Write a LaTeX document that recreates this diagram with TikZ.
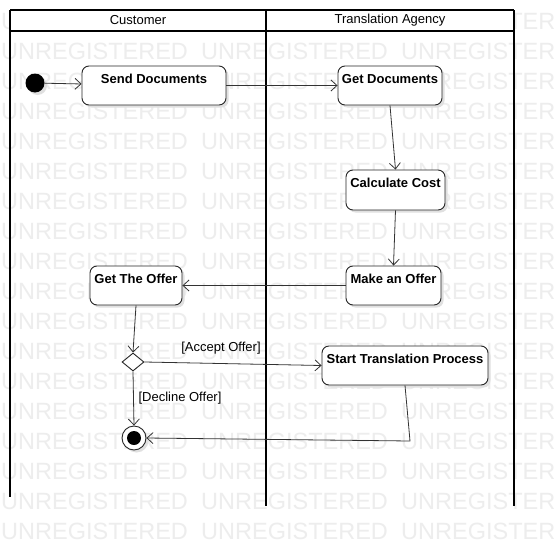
\documentclass[tikz,border=0pt]{standalone}
\usepackage{fontspec}
\setmainfont{Liberation Sans}
\usetikzlibrary{positioning,arrows.meta,shadows,shapes.geometric}

\begin{document}
\begin{tikzpicture}[x=1pt,y=-1pt,
    wm/.style={text=black!7,font=\fontsize{23.5}{26}\selectfont,inner sep=0pt,anchor=west},
    lane/.style={line width=1.8pt,black},
    head/.style={font=\fontsize{13}{15}\selectfont,inner sep=0pt},
    act/.style={draw=black!85,fill=white,rounded corners=7pt,line width=.9pt,
        drop shadow={shadow xshift=2.5pt,shadow yshift=-2.5pt,fill=black!12,opacity=1}},
    flow/.style={draw=black!80,line width=.8pt,-{Straight Barb[length=6pt,width=11pt]}},
    guard/.style={font=\fontsize{13}{15}\selectfont,inner sep=0pt}]
            \useasboundingbox (0,0) rectangle (554,546);
            \fill[white] (0,0) rectangle (554,546);

            % watermark
            \foreach \r in {0,...,17}
                \foreach \c in {0,1,2}
                    \node[wm] (wm-\r-\c) at (\c*200+1, 21+\r*30) {UNREGISTERED};

            % swimlanes
            \fill[white] (10,10) rectangle (514,31);
            \draw[lane] (10,10) -- (514,10);
            \draw[lane] (10,31) -- (514,31);
            \draw[lane] (10,10) -- (10,497);
            \draw[lane] (266,10) -- (266,506);
            \draw[lane] (514,10) -- (514,506);
            \node[head] (cust) at (138,20) {Customer};
            \node[head] (agen) at (390,20) {Translation Agency};

            % nodes
            \node[circle,fill=black,minimum size=19pt,inner sep=0pt,
                drop shadow={shadow xshift=2.5pt,shadow yshift=-2.5pt,fill=black!12,opacity=1}] (ini) at (35,83) {};
            \node[act,minimum width=144pt,minimum height=39pt,
                label={[anchor=north,yshift=-5pt,font=\bfseries\fontsize{13}{15}\selectfont]north:Send Documents}] (sd) at (154,85.5) {};
            \node[act,minimum width=104pt,minimum height=39pt,
                label={[anchor=north,yshift=-5pt,font=\bfseries\fontsize{13}{15}\selectfont]north:Get Documents}] (gd) at (390,85.5) {};
            \node[act,minimum width=99pt,minimum height=40pt,
                label={[anchor=north,yshift=-5pt,font=\bfseries\fontsize{13}{15}\selectfont]north:Calculate Cost}] (cc) at (395.5,190) {};
            \node[act,minimum width=95pt,minimum height=39pt,
                label={[anchor=north,yshift=-5pt,font=\bfseries\fontsize{13}{15}\selectfont]north:Make an Offer}] (mo) at (393.5,285.5) {};
            \node[act,minimum width=92pt,minimum height=39pt,
                label={[anchor=north,yshift=-5pt,font=\bfseries\fontsize{13}{15}\selectfont]north:Get The Offer}] (go) at (136,285.5) {};
            \node[act,minimum width=166pt,minimum height=39pt,
                label={[anchor=north,yshift=-5pt,font=\bfseries\fontsize{13}{15}\selectfont]north:Start Translation Process}] (stp) at (405,365.5) {};
            \node[draw=black!85,fill=white,line width=.9pt,diamond,inner sep=0pt,
                minimum width=22pt,minimum height=18pt] (dec) at (133,362) {};
            \node[circle,draw=black!85,fill=white,line width=.9pt,minimum size=24pt,inner sep=0pt,
                drop shadow={shadow xshift=2.5pt,shadow yshift=-2.5pt,fill=black!12,opacity=1}] (fin) at (134,438) {};
            \node[circle,fill=black,minimum size=14pt,inner sep=0pt] (fin-in) at (fin) {};
            \coordinate (bend) at (410,441);

            % flows
            \draw[flow] (ini) -- (sd);
            \draw[flow] (sd) -- (gd);
            \draw[flow] (gd.south) -- (cc.north);
            \draw[flow] (cc.south) -- (mo.north);
            \draw[flow] (mo) -- (go);
            \draw[flow] (go.south) -- (dec.north);
            \draw[flow] (dec.east) -- (stp.west);
            \draw[flow] (dec.south) -- (fin.north);
            \draw[flow] (stp.south) -- (bend) -- (fin.east);
            \node[guard] (acc) at (221,348) {[Accept Offer]};
            \node[guard] (dcl) at (180,398) {[Decline Offer]};
\end{tikzpicture}
\end{document}
